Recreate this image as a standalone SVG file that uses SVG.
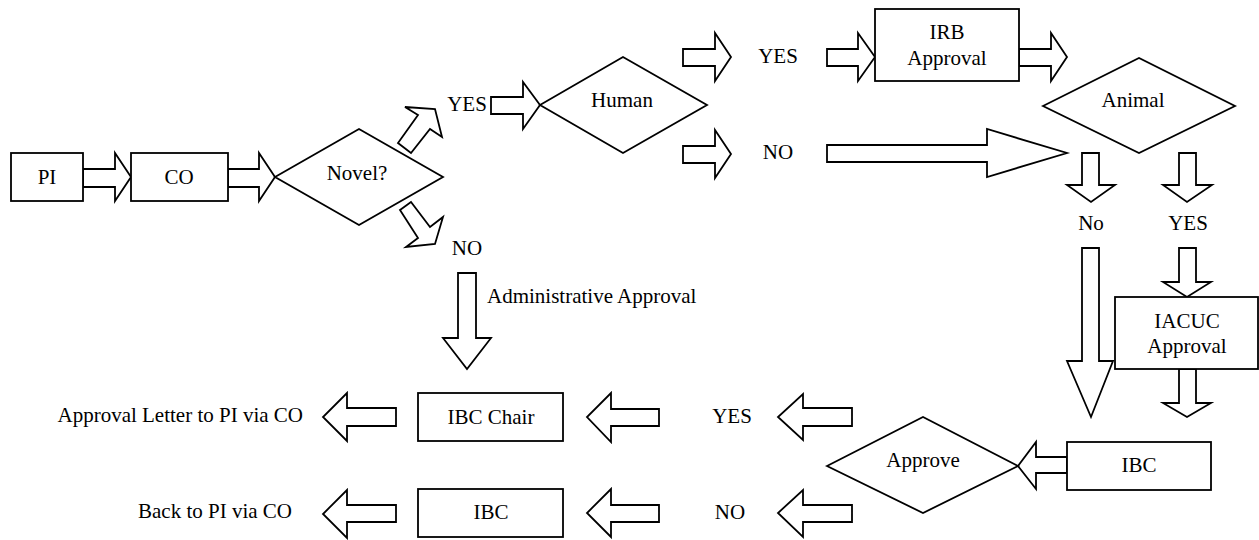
<svg xmlns="http://www.w3.org/2000/svg" width="1259" height="540" viewBox="0 0 1259 540" font-family="'Liberation Serif', 'Times New Roman', Times, serif" font-size="21">
<style>
.s{fill:#fff;stroke:#000;stroke-width:1.8;stroke-linejoin:miter}
.a{fill:#fff;stroke:#000;stroke-width:1.8;stroke-linejoin:miter}
text{font-family:'Liberation Serif','Times New Roman',Times,serif;font-size:21px;fill:#000}
.c{text-anchor:middle}
.e{text-anchor:end}
</style>
<rect width="1259" height="540" fill="#fff"/>
<g id="connectors">
<polygon class="a" points="83,169 115,169 115,153 131,177 115,201 115,187 83,187"/>
<polygon class="a" points="228,169 259,169 259,153 275,177 259,201 259,187 228,187"/>
<polygon class="a" points="405,107 435,109 442,137 430,129 411,153 398,143 418,115"/>
<polygon class="a" points="400,210 411,202 430,227 443,217 435,244 406,247 418,238"/>
<polygon class="a" points="491,97 523,97 523,82 540,105 523,129 523,114 491,114"/>
<polygon class="a" points="683,49 715,49 715,33 731,57 715,81 715,66 683,66"/>
<polygon class="a" points="683,146 715,146 715,130 731,154 715,178 715,163 683,163"/>
<polygon class="a" points="827,49 858,49 858,33 875,57 858,81 858,66 827,66"/>
<polygon class="a" points="1019,49 1051,49 1051,33 1067,57 1051,81 1051,66 1019,66"/>
<polygon class="a" points="827,145 987,145 987,129 1067,153 987,177 987,162 827,162"/>
<polygon class="a" points="1082,153 1099,153 1099,185 1115,185 1091,202 1067,185 1082,185"/>
<polygon class="a" points="1179,153 1196,153 1196,185 1212,185 1187,202 1163,185 1179,185"/>
<polygon class="a" points="1082,248 1099,248 1099,361 1113,361 1091,417 1067,361 1082,361"/>
<polygon class="a" points="1179,248 1196,248 1196,282 1211,282 1187,297 1163,282 1179,282"/>
<polygon class="a" points="1179,369 1196,369 1196,403 1211,403 1187,417 1163,403 1179,403"/>
<polygon class="a" points="1067,457 1036,457 1036,442 1018,466 1036,489 1036,473 1067,473"/>
<polygon class="a" points="852,408 803,408 803,394 778,417 803,440 803,426 852,426"/>
<polygon class="a" points="852,505 803,505 803,490 778,513 803,537 803,522 852,522"/>
<polygon class="a" points="659,409 611,409 611,393 587,417 611,442 611,426 659,426"/>
<polygon class="a" points="659,505 611,505 611,489 587,513 611,537 611,522 659,522"/>
<polygon class="a" points="396,408 347,408 347,393 323,417 347,441 347,426 396,426"/>
<polygon class="a" points="396,505 347,505 347,490 323,514 347,538 347,522 396,522"/>
<polygon class="a" points="458,273 476,273 476,338 491,338 467,369 443,338 458,338"/>
<text x="467" y="111" class="c">YES</text>
<text x="467" y="255" class="c">NO</text>
<text x="778" y="63" class="c">YES</text>
<text x="778" y="159" class="c">NO</text>
<text x="1091" y="230" class="c">No</text>
<text x="1188" y="230" class="c">YES</text>
<text x="487" y="303">Administrative Approval</text>
<text x="732" y="423" class="c">YES</text>
<text x="730" y="519" class="c">NO</text>
<text x="303" y="422" class="e">Approval Letter to PI via CO</text>
<text x="292" y="518" class="e">Back to PI via CO</text>
</g>
<g id="pi"><rect class="s" x="11" y="153" width="72" height="48"/><text x="47" y="184" class="c">PI</text></g>
<g id="co"><rect class="s" x="131" y="153" width="97" height="48"/><text x="179" y="184" class="c">CO</text></g>
<g id="novel"><polygon class="s" points="275,177 359,129 443,177 359,225"/><text x="357" y="180" class="c">Novel?</text></g>
<g id="human"><polygon class="s" points="540,105 623,57 707,105 623,153"/><text x="622" y="107" class="c">Human</text></g>
<g id="irb"><rect class="s" x="875" y="9" width="144" height="72"/><text x="947" y="39" class="c">IRB</text><text x="947" y="65" class="c">Approval</text></g>
<g id="animal"><polygon class="s" points="1043,106 1139,58 1235,106 1139,153"/><text x="1133" y="107" class="c">Animal</text></g>
<g id="iacuc"><rect class="s" x="1115" y="297" width="143" height="72"/><text x="1187" y="328" class="c">IACUC</text><text x="1187" y="353" class="c">Approval</text></g>
<g id="ibc-right"><rect class="s" x="1067" y="442" width="144" height="48"/><text x="1139" y="472" class="c">IBC</text></g>
<g id="approve"><polygon class="s" points="827,466 923,417 1018,466 923,513"/><text x="923" y="467" class="c">Approve</text></g>
<g id="ibc-chair"><rect class="s" x="418" y="393" width="145" height="48"/><text x="491" y="424" class="c">IBC Chair</text></g>
<g id="ibc-left"><rect class="s" x="418" y="489" width="145" height="48"/><text x="491" y="519" class="c">IBC</text></g>
</svg>
